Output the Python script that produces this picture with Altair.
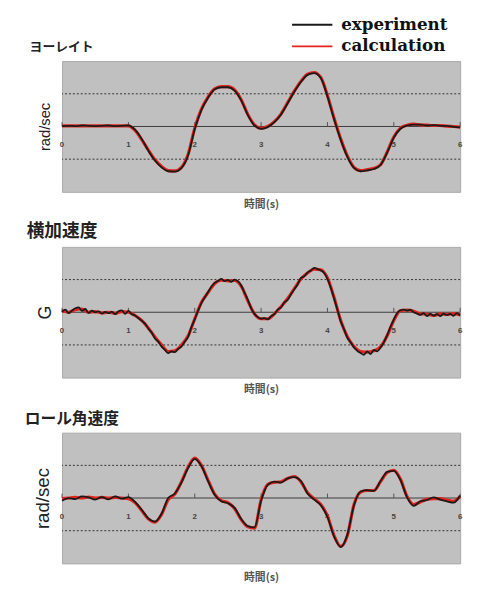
import altair as alt
import pandas as pd

# ---------------- data ----------------
SERIES = ["experiment", "calculation"]
COLORS = ["#1a1a1a", "#e3241c"]
X_TICKS = [0, 1, 2, 3, 4, 5, 6]
GRID_DASHED = [-1, 1]
GRID_SOLID = [0]

PANEL_TITLES = ["ヨーレイト", "横加速度", "ロール角速度"]
Y_TITLES = ["rad/sec", "G", "rad/sec"]
X_TITLE = "時間(s)"

# yaw rate (sampled every 0.1 s)
yaw_step = 0.1
yaw_exp = [0.01, 0.02, 0.01, 0.03, 0.02, 0.01, 0.02, 0.03, 0.01, 0.02, 0.03,
           -0.1, -0.38, -0.74, -1.04, -1.25, -1.37, -1.38, -1.27, -0.88, -0.08,
           0.5, 0.88, 1.14, 1.2, 1.2, 1.1, 0.8, 0.35, 0.03, -0.07,
           -0.02, 0.13, 0.37, 0.71, 1.06, 1.36, 1.58, 1.63, 1.48, 0.92,
           0.22, -0.41, -0.93, -1.27, -1.37, -1.34, -1.3, -1.18, -0.8, -0.34,
           -0.07, 0.03, 0.06, 0.06, 0.03, 0.04, 0.02, 0.02, -0.01, -0.03]
yaw_calc = [0.02, 0.02, 0.02, 0.02, 0.02, 0.02, 0.02, 0.02, 0.02, 0.02, 0.02,
            -0.12, -0.4, -0.72, -1.02, -1.22, -1.35, -1.36, -1.25, -0.85, -0.05,
            0.53, 0.9, 1.15, 1.22, 1.22, 1.12, 0.82, 0.37, 0.05, -0.06,
            0.0, 0.15, 0.38, 0.73, 1.08, 1.38, 1.6, 1.65, 1.5, 0.95,
            0.25, -0.38, -0.9, -1.25, -1.35, -1.32, -1.28, -1.17, -0.78, -0.32,
            -0.05, 0.04, 0.07, 0.05, 0.04, 0.03, 0.03, 0.01, 0.0, -0.02]

# lateral acceleration
lat_exp_step = 0.05
lat_exp = [0.02, 0.08, -0.03, 0.05, 0.12, 0.15, 0.04, 0.1, -0.02, 0.05,
           0.0, 0.03, -0.04, 0.01, -0.03, 0.02, -0.06, 0.03, 0.06, -0.05,
           0.04, -0.06, -0.1, -0.18, -0.26, -0.35, -0.5, -0.62, -0.8, -0.9,
           -1.05, -1.15, -1.25, -1.2, -1.22, -1.12, -1.05, -0.9, -0.75, -0.45,
           -0.22, 0.05, 0.28, 0.45, 0.62, 0.78, 0.9, 0.96, 1.02, 0.95,
           0.99, 0.93, 1.0, 0.95, 0.82, 0.6, 0.38, 0.12, -0.05, -0.15,
           -0.2, -0.18, -0.22, -0.12, -0.06, 0.08, 0.15, 0.3, 0.38, 0.55,
           0.7, 0.85, 1.05, 1.1, 1.22, 1.28, 1.36, 1.32, 1.28, 1.2,
           1.02, 0.75, 0.42, 0.08, -0.28, -0.52, -0.78, -0.92, -1.08, -1.18,
           -1.25, -1.3, -1.2, -1.28, -1.15, -1.2, -1.08, -0.92, -0.7, -0.45,
           -0.22, -0.02, 0.06, 0.08, 0.05, 0.08, 0.0, -0.04, -0.08, -0.03,
           -0.12, -0.05, -0.1, -0.06, -0.12, -0.04, -0.09, -0.05, -0.11, -0.03,
           -0.1]
lat_calc_step = 0.1
lat_calc = [0.05, 0.0, 0.08, 0.1, 0.0, 0.02, -0.02, 0.0, -0.03, 0.02, 0.0,
            -0.1, -0.25, -0.48, -0.76, -1.0, -1.2, -1.18, -1.0, -0.72, -0.2,
            0.3, 0.6, 0.88, 0.98, 0.96, 0.97, 0.8, 0.35, -0.05, -0.2,
            -0.2, -0.05, 0.17, 0.42, 0.72, 1.02, 1.2, 1.32, 1.3, 1.05,
            0.45, -0.25, -0.75, -1.05, -1.2, -1.22, -1.18, -1.06, -0.72, -0.25,
            0.05, 0.07, 0.03, -0.05, -0.06, -0.1, -0.05, -0.07, -0.04, -0.08]

# roll rate
roll_step = 0.1
roll_exp = [-0.08, 0.0, -0.03, 0.05, 0.02, -0.05, 0.03, -0.04, 0.05, -0.02, 0.03,
            -0.12, -0.36, -0.62, -0.72, -0.48, 0.0, 0.14, 0.48, 0.92, 1.2,
            0.98, 0.52, 0.1, -0.1, -0.16, -0.3, -0.64, -0.86, -0.9, -0.08,
            0.4, 0.5, 0.47, 0.6, 0.64, 0.52, 0.14, -0.05, -0.22, -0.58,
            -1.18, -1.5, -1.12, -0.22, 0.2, 0.24, 0.22, 0.52, 0.8, 0.83,
            0.55, 0.02, -0.24, -0.1, -0.06, 0.02, -0.05, -0.1, -0.14, 0.08]
roll_calc = [-0.02, 0.0, 0.02, 0.0, 0.03, 0.0, 0.02, 0.0, 0.02, 0.0, -0.02,
             -0.14, -0.38, -0.64, -0.74, -0.5, -0.05, 0.12, 0.5, 0.95, 1.22,
             1.0, 0.55, 0.12, -0.08, -0.14, -0.32, -0.66, -0.88, -0.92, -0.05,
             0.42, 0.48, 0.5, 0.6, 0.66, 0.5, 0.16, -0.02, -0.2, -0.55,
             -1.15, -1.48, -1.15, -0.2, 0.18, 0.23, 0.23, 0.5, 0.78, 0.85,
             0.58, 0.05, -0.2, -0.12, -0.04, -0.02, -0.02, -0.06, -0.1, 0.05]


def series_df(values, step, name):
    return pd.DataFrame({"t": [round(i * step, 3) for i in range(len(values))],
                         "v": values, "series": name})


PANEL_DATA = [
    (series_df(yaw_exp, yaw_step, SERIES[0]), series_df(yaw_calc, yaw_step, SERIES[1])),
    (series_df(lat_exp, lat_exp_step, SERIES[0]), series_df(lat_calc, lat_calc_step, SERIES[1])),
    (series_df(roll_exp, roll_step, SERIES[0]), series_df(roll_calc, roll_step, SERIES[1])),
]

# ---------------- styling ----------------
W, H = 405, 133
XS = alt.Scale(domain=[0, 6], nice=False, zero=False)
YS = alt.Scale(domain=[-2, 2], nice=False, zero=False)
CJK = "Noto Sans CJK JP"

TITLE_CFG = [  # (fontSize, x offset, y offset)
    (13, -33, -14),
    (18, -36, -15),
    (16, -38, -14),
]
YTITLE_CFG = [(15, 10), (18, 8), (19, 10)]  # (fontSize, padding)
XTITLE_PAD = [7, 6, 8]

tick_df = pd.DataFrame({"tk": X_TICKS})
dash_df = pd.DataFrame({"g": GRID_DASHED})
solid_df = pd.DataFrame({"g": GRID_SOLID})


def panel(i):
    exp_df, calc_df = PANEL_DATA[i]
    fs, ydt = YTITLE_CFG[i]
    x_axis = alt.Axis(
        labels=False, ticks=False, domain=False, grid=False,
        title=X_TITLE, titleFont=CJK, titleFontSize=11, titleFontWeight="bold",
        titleColor="#555", titlePadding=XTITLE_PAD[i])
    y_axis = alt.Axis(
        labels=False, ticks=False, domain=False, grid=False,
        title=Y_TITLES[i], titleFont="Liberation Sans", titleFontSize=fs,
        titleFontWeight="normal", titleColor="#222", titlePadding=ydt)

    def X(f):
        return alt.X(f, scale=XS, axis=x_axis)

    def Y(f):
        return alt.Y(f, scale=YS, axis=y_axis)

    dashed = alt.Chart(dash_df).mark_rule(color="#333333", strokeWidth=1, strokeDash=[2, 2]).encode(
        y=Y("g:Q"))
    solid = alt.Chart(solid_df).mark_rule(color="#3c3c3c", strokeWidth=1).encode(
        y=Y("g:Q"))
    ticks = alt.Chart(tick_df).mark_rule(color="#555", strokeWidth=1).encode(
        x=X("tk:Q"), y=alt.value(62), y2=alt.value(H / 2))
    tlabels = alt.Chart(tick_df).mark_text(
        fontSize=8, font="Liberation Sans", fontWeight="bold", color="#444", baseline="middle", dy=19
    ).encode(x=X("tk:Q"), y=alt.datum(0), text="tk:Q")

    red = alt.Chart(calc_df).mark_line(color=COLORS[1], strokeWidth=3.2, interpolate="monotone").encode(
        x=X("t:Q"), y=Y("v:Q"))
    black = alt.Chart(exp_df).mark_line(color=COLORS[0], strokeWidth=1.8, interpolate="monotone").encode(
        x=X("t:Q"), y=Y("v:Q"))

    tfs, tx, ty = TITLE_CFG[i]
    title = alt.Chart(tick_df.head(1)).mark_text(
        text=PANEL_TITLES[i], font=CJK, fontSize=tfs, fontWeight="bold", color="#222",
        align="left", baseline="middle").encode(x=alt.value(tx), y=alt.value(ty))

    layers = [dashed, solid, ticks, tlabels, red, black, title]

    if i == 0:
        for k, (name, col) in enumerate(zip(SERIES, COLORS)):
            yy = -37 + k * 22
            layers.append(alt.Chart(tick_df.head(1)).mark_rule(color=col, strokeWidth=2).encode(
                x=alt.value(234), x2=alt.value(275), y=alt.value(yy)))
            layers.append(alt.Chart(tick_df.head(1)).mark_text(
                text=name, font="DejaVu Serif", fontSize=17, fontWeight="bold", color="#111",
                align="left", baseline="middle").encode(x=alt.value(284), y=alt.value(yy)))

    return alt.layer(*layers).properties(width=W, height=H)


chart = alt.vconcat(panel(0), panel(1), panel(2), spacing=56, bounds="flush").properties(
    padding={"left": 16, "top": 2, "right": 2, "bottom": 0}
).configure(background="white").configure_view(fill="#c0c0c0", stroke="#a8a8a8")

chart.save("out.html", embed_options={"renderer": "svg", "actions": False})
